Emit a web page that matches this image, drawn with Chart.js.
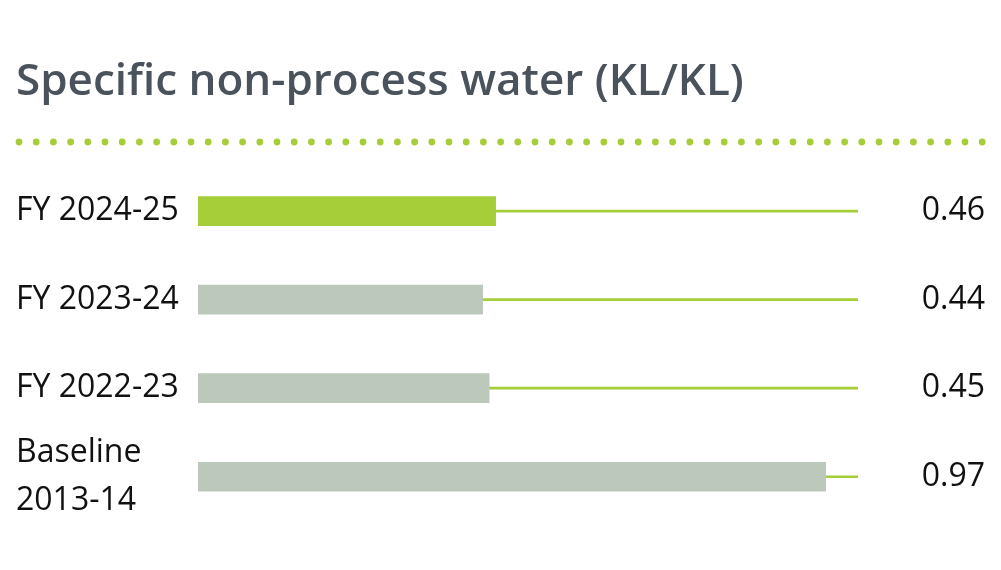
<!DOCTYPE html>
<html>
<head>
<meta charset="utf-8">
<script src="https://cdn.jsdelivr.net/npm/chart.js@4.4.1/dist/chart.umd.min.js"></script>
<style>
  html, body { margin: 0; padding: 0; background: #ffffff; }
  #wrap { width: 1001px; height: 570px; position: relative; }
</style>
</head>
<body>
<div id="wrap"><canvas id="c" width="1001" height="570"></canvas></div>
<script>
const titleText = 'Specific non-process water (KL/KL)';
const categories = [['FY 2024-25'], ['FY 2023-24'], ['FY 2022-23'], ['Baseline', '2013-14']];
const values = [0.46, 0.44, 0.45, 0.97];
const valueLabels = ['0.46', '0.44', '0.45', '0.97'];
const trackMax = 1.02;
const trackValues = [trackMax, trackMax, trackMax, trackMax];
const barColors = ['#a6ce39', '#bcc8bc', '#bcc8bc', '#bcc8bc'];

const dotsPlugin = {
  id: 'dots',
  afterDraw(chart) {
    const ctx = chart.ctx;
    ctx.save();
    ctx.fillStyle = '#a6ce39';
    for (let x = 19; x <= 984; x += 17.2) {
      ctx.beginPath();
      ctx.arc(x, 142, 3.4, 0, Math.PI * 2);
      ctx.fill();
    }
    ctx.restore();
  }
};

new Chart(document.getElementById('c'), {
  type: 'bar',
  data: {
    labels: categories,
    datasets: [
      { data: values, backgroundColor: barColors, barThickness: 29, grouped: false, borderWidth: 0 },
      { data: trackValues, backgroundColor: '#a6ce39', barThickness: 2, grouped: false, borderWidth: 0 }
    ]
  },
  options: {
    indexAxis: 'y',
    responsive: false,
    animation: false,
    devicePixelRatio: 1,
    layout: { padding: { left: 16, right: 16, top: 0, bottom: 49 } },
    plugins: {
      legend: { display: false },
      tooltip: { enabled: false },
      title: {
        display: true,
        text: titleText,
        align: 'start',
        color: '#4a535b',
        font: { family: 'Open Sans', size: 44, weight: '600', lineHeight: 1.2 },
        padding: { top: 56, bottom: 58 }
      }
    },
    scales: {
      x: {
        min: 0, max: trackMax,
        display: false,
        grid: { display: false }
      },
      y: {
        type: 'category',
        position: 'left',
        offset: true,
        grid: { display: false },
        border: { display: false },
        ticks: {
          autoSkip: false,
          crossAlign: 'far',
          padding: 0,
          color: '#111111',
          font: { family: 'Open Sans', size: 32, lineHeight: 1.5 }
        },
        afterFit(scale) { scale.width = 182; }
      },
      y2: {
        type: 'category',
        position: 'right',
        labels: valueLabels,
        offset: true,
        grid: { display: false },
        border: { display: false },
        ticks: {
          autoSkip: false,
          crossAlign: 'far',
          padding: 0,
          color: '#111111',
          font: { family: 'Open Sans', size: 32 }
        },
        afterFit(scale) { scale.width = 127; }
      }
    }
  },
  plugins: [dotsPlugin]
});
</script>
</body>
</html>
